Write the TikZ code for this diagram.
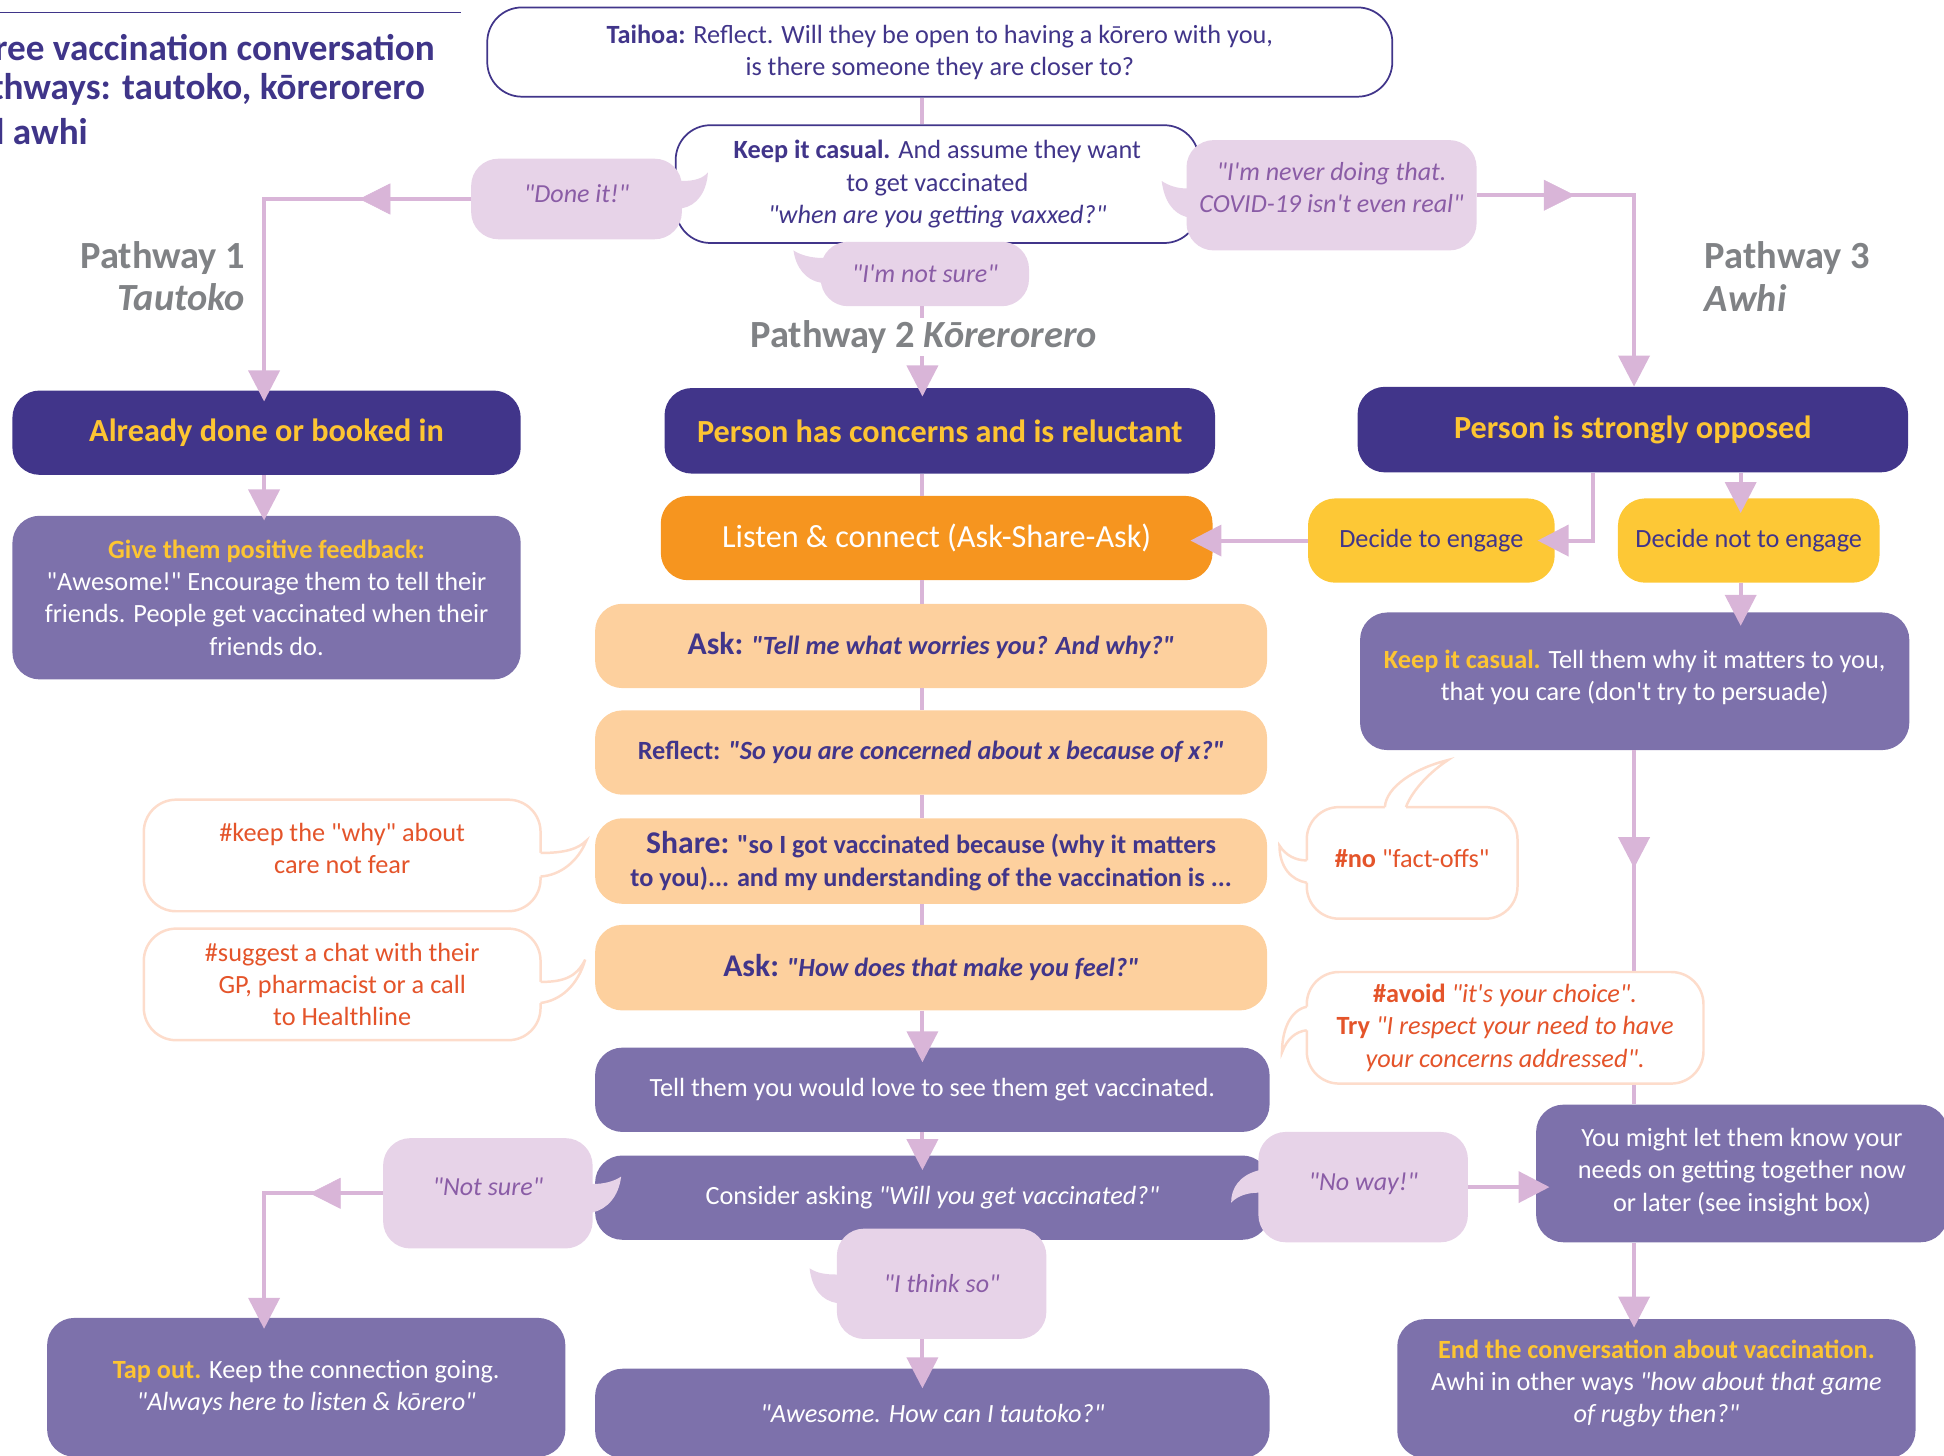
\documentclass[tikz,border=0pt]{standalone}
\usepackage{fontspec}
\setmainfont{Carlito}[Ligatures=TeXOff]
\usetikzlibrary{arrows.meta,decorations.markings}
\definecolor{indigo}{HTML}{41358A}
\definecolor{midpurple}{HTML}{7D71AB}
\definecolor{hlyellow}{HTML}{FDC532}
\definecolor{decideyellow}{HTML}{FDC836}
\definecolor{listenorange}{HTML}{F6951F}
\definecolor{lightorange}{HTML}{FDD09E}
\definecolor{lilac}{HTML}{E7D3E8}
\definecolor{lilactext}{HTML}{8A5CA6}
\definecolor{connc}{HTML}{D9B5D8}
\definecolor{labelgray}{HTML}{808285}
\definecolor{notered}{HTML}{E4542A}
\definecolor{noteedge}{HTML}{FDDCCB}
\definecolor{titlepurple}{HTML}{3F3589}
\newcommand{\hlt}[1]{{\bfseries\color{hlyellow}#1}}
\newcommand{\leadsz}{\fontsize{25.5}{26}\selectfont}
\begin{document}
\begin{tikzpicture}[x=1pt,y=-1pt,
  base/.style={rounded corners=22pt, inner sep=0pt, align=center, font=\fontsize{21.2}{26}\selectfont},
  darkbox/.style={base, fill=indigo, text=hlyellow, font=\fontsize{26}{30}\selectfont\bfseries},
  midbox/.style={base, fill=midpurple, text=white},
  peach/.style={base, fill=lightorange, text=indigo, font=\fontsize{21.2}{26}\selectfont\bfseries},
  decide/.style={base, fill=decideyellow, text=indigo},
  outline/.style={base, fill=white, draw=indigo, line width=1.4pt, text=indigo, rounded corners=28pt},
  bubble/.style={base, fill=lilac, text=lilactext, font=\fontsize{21}{26}\selectfont\itshape},
  note/.style={base, fill=white, draw=noteedge, line width=2pt, text=notered, rounded corners=26pt},
  conn/.style={draw=connc, line width=3.2pt},
  arr/.style={conn, -{Triangle[length=25pt,width=25pt]}, shorten >=-9pt},
  midarrow/.style={postaction={decorate}, decoration={markings, mark=at position #1 with {\arrow[connc]{Triangle[length=25pt,width=25pt]}}}},
  pathlabel/.style={text=labelgray, inner sep=0pt, font=\fontsize{31}{34}\selectfont\bfseries},
  titletext/.style={text=titlepurple, inner sep=0pt, font=\fontsize{30}{34}\selectfont\bfseries},
  tailedge/.style={draw=noteedge, line width=2pt},
]
\useasboundingbox (0,0) rectangle (1568,1174);
\clip (0,0) rectangle (1568,1174);

% spine x positions
\coordinate (lsp) at (213,0);
\coordinate (sp) at (744,0);
\coordinate (rsp) at (1318,0);
\coordinate (e1) at (1285,0);
\coordinate (ne) at (1404,0);

% title
\draw[titlepurple, line width=1.2pt] (0,10) -- (372,10);
\node[titletext, anchor=east] (t1) at (351,38) {Three vaccination conversation};
\node[titletext, anchor=east] (t2) at (343,72) {pathways: tautoko, kōrerorero};
\node[titletext, anchor=east] (t3) at (71,106) {and awhi};

% top boxes
\node[outline, minimum width=730pt, minimum height=72pt] (taihoa) at (758,42)
  {\textbf{Taihoa:} Reflect. Will they be open to having a kōrero with you,\\ is there someone they are closer to?};
\node[outline, minimum width=422pt, minimum height=95pt] (keep) at (756,148.5)
  {\textbf{Keep it casual.} And assume they want\\ to get vaccinated\\ \textit{"when are you getting vaxxed?"}};

% pathway labels
\node[pathlabel, anchor=east, align=right] (p1) at (198,223) {Pathway 1\\ \textit{Tautoko}};
\node[pathlabel, anchor=west, align=left] (p3) at (1375,223) {Pathway 3\\ \textit{Awhi}};

% main boxes
\node[darkbox, minimum width=410pt, minimum height=68pt] (already) at (215,349) {Already done or booked in};
\node[darkbox, minimum width=444pt, minimum height=69pt] (concerns) at (758,347.5) {Person has concerns and is reluctant};
\node[darkbox, minimum width=444pt, minimum height=69pt] (opposed) at (1317,346.5) {Person is strongly opposed};

\node[midbox, minimum width=410pt, minimum height=132pt] (feedback) at (215,482)
  {\hlt{Give them positive feedback:}\\ "Awesome!" Encourage them to tell their\\ friends. People get vaccinated when their\\ friends do.};

\node[base, fill=listenorange, text=white, font=\fontsize{26}{30}\selectfont, minimum width=445pt, minimum height=68pt] (listen) at (755.5,434)
  {Listen \& connect (Ask-Share-Ask)};
\node[decide, minimum width=199pt, minimum height=68pt] (engage) at (1154.5,436) {Decide to engage};
\node[decide, minimum width=211pt, minimum height=68pt] (notengage) at (1410.5,436) {Decide not to engage};

\node[peach, minimum width=542pt, minimum height=68pt] (ask1) at (751,521)
  {{\leadsz Ask:} \textit{"Tell me what worries you? And why?"}};
\node[peach, minimum width=542pt, minimum height=68pt] (reflect) at (751,607)
  {Reflect: \textit{"So you are concerned about x because of x?"}};
\node[peach, minimum width=542pt, minimum height=69pt] (share) at (751,694.5)
  {{\leadsz Share:} "so I got vaccinated because (why it matters\\ to you)... and my understanding of the vaccination is ...};
\node[peach, minimum width=542pt, minimum height=69pt] (ask2) at (751,780.5)
  {{\leadsz Ask:} \textit{"How does that make you feel?"}};

\node[midbox, minimum width=443pt, minimum height=111pt] (keepR) at (1318.5,549.5)
  {\hlt{Keep it casual.} Tell them why it matters to you,\\ that you care (don't try to persuade)\rule[-10pt]{0pt}{10pt}};

\node[midbox, minimum width=544pt, minimum height=68pt] (tell) at (752,879)
  {Tell them you would love to see them get vaccinated.};
\node[midbox, minimum width=544pt, minimum height=68pt] (consider) at (752,966)
  {Consider asking \textit{"Will you get vaccinated?"}};
\node[midbox, minimum width=544pt, minimum height=72pt] (awesome) at (752,1140)
  {\textit{"Awesome. How can I tautoko?"}};
\node[midbox, minimum width=418pt, minimum height=112pt] (tapout) at (247,1119)
  {\hlt{Tap out.} Keep the connection going.\\ \textit{"Always here to listen \& kōrero"}};
\node[midbox, minimum width=332pt, minimum height=111pt] (youmight) at (1405,946.5)
  {You might let them know your\\ needs on getting together now\\ or later (see insight box)\rule[-6pt]{0pt}{6pt}};
\node[midbox, minimum width=418pt, minimum height=112pt] (endbox) at (1336,1120)
  {\hlt{End the conversation about vaccination.}\\ Awhi in other ways \textit{"how about that game}\\ \textit{of rugby then?"}\rule[-12pt]{0pt}{12pt}};

% lilac answer bubbles
\node[bubble, minimum width=170pt, minimum height=65pt] (doneit) at (465,160.5) {"Done it!"\rule[-8pt]{0pt}{8pt}};
\fill[lilac] (540,146) -- (550,146) .. controls (560,146) and (567,144) .. (571,139) .. controls (570,155) and (562,166) .. (550,168) -- (540,168) -- cycle;

\node[bubble, minimum width=234pt, minimum height=89pt] (never) at (1074,157.5)
  {"I'm never doing that.\\ COVID-19 isn't even real"\rule[-12pt]{0pt}{12pt}};
\fill[lilac] (962,152) -- (957,152) .. controls (950,152) and (943,150) .. (937,146) .. controls (939,162) and (946,172) .. (957,175) -- (962,175) -- cycle;

\node[bubble, minimum width=168pt, minimum height=52pt] (notsure) at (746,221) {"I'm not sure"};
\fill[lilac] (667,208) -- (662,208) .. controls (655,208) and (646,206) .. (640,202) .. controls (642,216) and (650,226) .. (662,228) -- (667,228) -- cycle;

\node[bubble, minimum width=169pt, minimum height=89pt] (notsure2) at (393.5,962.5) {"Not sure"\rule[-10pt]{0pt}{10pt}};
\fill[lilac] (473,955) -- (478,955) .. controls (487,955) and (495,953) .. (501,949) .. controls (499,965) and (490,975) .. (478,978) -- (473,978) -- cycle;

\node[bubble, minimum width=169pt, minimum height=89pt] (ithinkso) at (759.5,1035.5) {"I think so"};
\fill[lilac] (680,1028) -- (675,1028) .. controls (666,1028) and (659,1027) .. (653,1023) .. controls (655,1040) and (663,1049) .. (675,1051) -- (680,1051) -- cycle;

\node[bubble, minimum width=169pt, minimum height=89pt] (noway) at (1099.5,957.5) {"No way!"\rule[-8pt]{0pt}{8pt}};
\fill[lilac] (1020,944) -- (1015,944) .. controls (1000,948) and (993,958) .. (993,970) .. controls (999,964) and (1007,962) .. (1015,962) -- (1020,962) -- cycle;

% notes
\node[note, minimum width=320pt, minimum height=90pt] (keepnote) at (276,690)
  {\#keep the "why" about\\ care not fear\rule[-12pt]{0pt}{12pt}};
\fill[white] (433,688) -- (436,688) .. controls (455,688) and (466,685) .. (473,678) .. controls (466,695) and (452,706) .. (436,707) -- (433,707) -- cycle;
\draw[tailedge] (436,688) .. controls (455,688) and (466,685) .. (473,678) .. controls (466,695) and (452,706) .. (436,707);

\node[note, minimum width=320pt, minimum height=90pt] (suggest) at (276,794)
  {\#suggest a chat with their\\ GP, pharmacist or a call\\ to Healthline};
\fill[white] (433,792) -- (436,792) .. controls (455,792) and (465,788) .. (472,774) .. controls (466,795) and (452,807) .. (436,809) -- (433,809) -- cycle;
\draw[tailedge] (436,792) .. controls (455,792) and (465,788) .. (472,774) .. controls (466,795) and (452,807) .. (436,809);

\node[note, minimum width=170pt, minimum height=90pt] (nonote) at (1139,696)
  {\textbf{\#no} "fact-offs"\rule[-8pt]{0pt}{8pt}};
\fill[white] (1057,694) -- (1054,694) .. controls (1045,694) and (1037,690) .. (1032,682) .. controls (1032,700) and (1042,710) .. (1054,712) -- (1057,712) -- cycle;
\draw[tailedge] (1054,694) .. controls (1045,694) and (1037,690) .. (1032,682) .. controls (1032,700) and (1042,710) .. (1054,712);
\fill[white] (1117,654) -- (1117,651) .. controls (1118,635) and (1140,620) .. (1168,613) .. controls (1150,625) and (1138,640) .. (1134,651) -- (1134,654) -- cycle;
\draw[tailedge] (1117,651) .. controls (1118,635) and (1140,620) .. (1168,613) .. controls (1150,625) and (1138,640) .. (1134,651);

% connectors
\draw[conn] (taihoa.south -| sp) -- (keep.north -| sp);
\draw[arr] (doneit.west) -| (already.north -| lsp);
\path[midarrow=90pt] (doneit.west) -- (doneit.west -| lsp);
\draw[arr, shorten >=0pt] (never.east) -| (opposed.north -| rsp);
\path[midarrow=79pt] (never.east) -- (never.east -| rsp);
\draw[arr, shorten >=-7pt] (notsure.south -| sp) -- (concerns.north -| sp);
\draw[arr, shorten >=-4pt] (already.south -| lsp) -- (feedback.north -| lsp);
\draw[conn] (concerns.south -| sp) -- (listen.north -| sp);
\draw[conn] (listen.south -| sp) -- (ask1.north -| sp);
\draw[conn] (ask1.south -| sp) -- (reflect.north -| sp);
\draw[conn] (reflect.south -| sp) -- (share.north -| sp);
\draw[conn] (share.south -| sp) -- (ask2.north -| sp);
\draw[arr, shorten >=-12pt] (ask2.south -| sp) -- (tell.north -| sp);
\draw[arr, shorten >=-12pt] (tell.south -| sp) -- (consider.north -| sp);
\draw[arr, shorten >=-16pt] (ithinkso.south -| sp) -- (awesome.north -| sp);
\draw[arr] (notsure2.west) -| (tapout.north -| lsp);
\path[midarrow=59pt] (notsure2.west) -- (notsure2.west -| lsp);
\draw[arr, shorten >=-14pt] (opposed.south -| e1) |- (engage.east);
\draw[arr, shorten >=-12pt] (opposed.south -| ne) -- (notengage.north -| ne);
\draw[arr, shorten >=-18pt] (engage.west) -- (listen.east |- engage.west);
\draw[arr, shorten >=-11pt] (notengage.south -| ne) -- (keepR.north -| ne);
\draw[conn, midarrow=95pt] (keepR.south -| rsp) -- (youmight.north -| rsp);
\draw[arr, shorten >=-11pt] (noway.east) -- (youmight.west |- noway.east);
\draw[arr, shorten >=-7pt] (youmight.south -| rsp) -- (endbox.north -| rsp);

% label over the spine
\node[pathlabel, fill=white, inner sep=2pt] (p2) at (745,272) {Pathway 2 \textit{Kōrerorero}};

% note over the right line
\node[note, minimum width=320pt, minimum height=90pt] (avoid) at (1214,829)
  {\textbf{\#avoid} \textit{"it's your choice".}\\ \textbf{Try} \textit{"I respect your need to have}\\ \textit{your concerns addressed".}};
\fill[white] (1057,812) -- (1054,812) .. controls (1040,815) and (1034,832) .. (1034,849) .. controls (1038,838) and (1045,832) .. (1054,831) -- (1057,831) -- cycle;
\draw[tailedge] (1054,812) .. controls (1040,815) and (1034,832) .. (1034,849) .. controls (1038,838) and (1045,832) .. (1054,831);
\end{tikzpicture}
\end{document}
